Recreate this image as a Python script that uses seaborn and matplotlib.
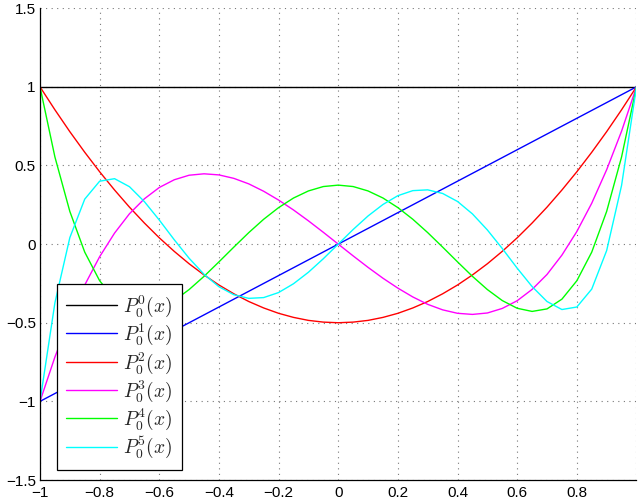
import matplotlib
matplotlib.use("Agg")
import matplotlib.pyplot as plt
import numpy as np
import pandas as pd
import seaborn as sns

# sample grid (step 0.05)
x_vals = [-1.0, -0.95, -0.9, -0.85, -0.8, -0.75, -0.7, -0.65, -0.6, -0.55, -0.5,
          -0.45, -0.4, -0.35, -0.3, -0.25, -0.2, -0.15, -0.1, -0.05, 0.0,
          0.05, 0.1, 0.15, 0.2, 0.25, 0.3, 0.35, 0.4, 0.45, 0.5,
          0.55, 0.6, 0.65, 0.7, 0.75, 0.8, 0.85, 0.9, 0.95, 1.0]

p0 = [1.0] * 41
p1 = list(x_vals)
p2 = [1.0, 0.854, 0.715, 0.584, 0.46, 0.344, 0.235, 0.134, 0.04, -0.046, -0.125,
      -0.196, -0.26, -0.316, -0.365, -0.406, -0.44, -0.466, -0.485, -0.496, -0.5,
      -0.496, -0.485, -0.466, -0.44, -0.406, -0.365, -0.316, -0.26, -0.196, -0.125,
      -0.046, 0.04, 0.134, 0.235, 0.344, 0.46, 0.584, 0.715, 0.854, 1.0]
p3 = [-1.0, -0.718, -0.473, -0.26, -0.08, 0.07, 0.193, 0.288, 0.36, 0.409, 0.438,
      0.447, 0.44, 0.418, 0.383, 0.336, 0.28, 0.217, 0.148, 0.075, 0.0,
      -0.075, -0.148, -0.217, -0.28, -0.336, -0.383, -0.418, -0.44, -0.447, -0.438,
      -0.409, -0.36, -0.288, -0.193, -0.07, 0.08, 0.26, 0.473, 0.718, 1.0]
p4 = [1.0, 0.554, 0.208, -0.051, -0.233, -0.35, -0.412, -0.428, -0.408, -0.359, -0.289,
      -0.205, -0.113, -0.019, 0.073, 0.158, 0.232, 0.293, 0.338, 0.366, 0.375,
      0.366, 0.338, 0.293, 0.232, 0.158, 0.073, -0.019, -0.113, -0.205, -0.289,
      -0.359, -0.408, -0.428, -0.412, -0.35, -0.233, -0.051, 0.208, 0.554, 1.0]
p5 = [-1.0, -0.373, 0.041, 0.286, 0.4, 0.416, 0.365, 0.27, 0.153, 0.028, -0.09,
      -0.192, -0.271, -0.322, -0.345, -0.34, -0.308, -0.252, -0.179, -0.093, 0.0,
      0.093, 0.179, 0.252, 0.308, 0.34, 0.345, 0.322, 0.271, 0.192, 0.09,
      -0.028, -0.153, -0.27, -0.365, -0.416, -0.4, -0.286, -0.041, 0.373, 1.0]

series = [p0, p1, p2, p3, p4, p5]
labels = [f"$P_0^{n}(x)$" for n in range(6)]
colors = ["#000000", "#0000ff", "#ff0000", "#ff00ff", "#00ff00", "#00ffff"]

x_ticks = [-1.0, -0.8, -0.6, -0.4, -0.2, 0.0, 0.2, 0.4, 0.6, 0.8, 1.0]
x_ticklabels = ["\u22121", "\u22120.8", "\u22120.6", "\u22120.4", "\u22120.2", "0",
                "0.2", "0.4", "0.6", "0.8", ""]
y_ticks = [-1.5, -1.0, -0.5, 0.0, 0.5, 1.0, 1.5]
y_ticklabels = ["\u22121.5", "\u22121", "\u22120.5", "0", "0.5", "1", "1.5"]


def main() -> None:
    frames = []
    for label, values in zip(labels, series):
        frames.append(pd.DataFrame({"x": x_vals, "y": values, "curve": label}))
    df = pd.concat(frames, ignore_index=True)

    sns.set_style("white")
    plt.rcParams["font.family"] = ["Liberation Sans", "DejaVu Sans"]
    plt.rcParams["mathtext.fontset"] = "cm"

    fig = plt.figure(figsize=(6.4, 5.03), dpi=100)
    ax = fig.add_axes([0.0625, 0.0457, 0.932, 0.938])

    sns.lineplot(data=df, x="x", y="y", hue="curve", hue_order=labels,
                 palette=dict(zip(labels, colors)), sort=False, estimator=None,
                 linewidth=1.0, ax=ax, legend=False)

    ax.set_xlim(-1, 1)
    ax.set_ylim(-1.5, 1.5)
    ax.set_xticks(x_ticks)
    ax.set_xticklabels(x_ticklabels)
    ax.set_yticks(y_ticks)
    ax.set_yticklabels(y_ticklabels)
    ax.set_xlabel("")
    ax.set_ylabel("")
    ax.tick_params(direction="in", length=4, width=0.8, labelsize=11,
                   colors="black", pad=4)
    ax.tick_params(axis="y", pad=3)
    ax.grid(True, linestyle=(0, (1, 4)), color="#777777", linewidth=0.8)
    for side in ["top", "right"]:
        ax.spines[side].set_visible(False)
    for side in ["left", "bottom"]:
        ax.spines[side].set_color("black")
        ax.spines[side].set_linewidth(0.9)

    handles = [plt.Line2D([], [], color=c, linewidth=1.0) for c in colors]
    leg = ax.legend(handles, labels, loc="lower left", bbox_to_anchor=(0.028, 0.021),
                    borderaxespad=0, fontsize=14, handlelength=2.6, handletextpad=0.3,
                    labelspacing=0.15, borderpad=0.5, frameon=True, fancybox=False,
                    framealpha=1.0)
    leg.get_frame().set_edgecolor("black")
    leg.get_frame().set_linewidth(0.9)

    fig.savefig("out.png", dpi=100)
    plt.close(fig)


if __name__ == "__main__":
    main()
